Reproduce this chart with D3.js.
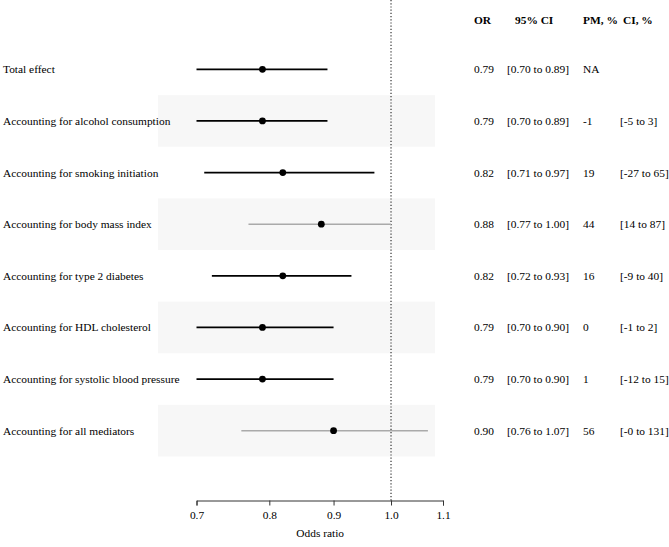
<!DOCTYPE html>
<html><head><meta charset="utf-8">
<script src="https://cdn.jsdelivr.net/npm/d3@7"></script>
<style>body{margin:0;background:#fff}svg{display:block;font-family:"Liberation Serif","Times New Roman",serif}</style>
</head><body>
<script>
const labels = ["Total effect","Accounting for alcohol consumption","Accounting for smoking initiation","Accounting for body mass index","Accounting for type 2 diabetes","Accounting for HDL cholesterol","Accounting for systolic blood pressure","Accounting for all mediators"];
const orVals = [0.79,0.79,0.82,0.88,0.82,0.79,0.79,0.90];
const lower = [0.70,0.70,0.71,0.77,0.72,0.70,0.70,0.76];
const upper = [0.89,0.89,0.97,1.00,0.93,0.90,0.90,1.07];
const pm = ["NA","-1","19","44","16","0","1","56"];
const pmCI = ["","[-5 to 3]","[-27 to 65]","[14 to 87]","[-9 to 40]","[-1 to 2]","[-12 to 15]","[-0 to 131]"];
const ticks = [0.7,0.8,0.9,1.0,1.1];

const W=669,H=547,FS=11.4;
const svg=d3.select("body").append("svg").attr("width",W).attr("height",H);
const x=d3.scaleLog().domain([0.7,1.1]).range([196.5,443]);
const y=d3.scaleBand().domain(d3.range(labels.length)).range([43.5,456.5]);
const yc=i=>y(i)+y.bandwidth()/2;

// shaded bands
svg.append("g").selectAll("rect").data(d3.range(labels.length).filter(i=>i%2===1)).join("rect")
 .attr("x",158).attr("width",277).attr("y",i=>y(i)).attr("height",y.bandwidth()).attr("fill","#f7f7f7");

// reference line
svg.append("line").attr("x1",x(1)).attr("x2",x(1)).attr("y1",0).attr("y2",500.5)
 .attr("stroke","#333").attr("stroke-width",1.2).attr("stroke-dasharray","1.2,2");

// CIs
const col=i=>upper[i]>=1?"#aaaaaa":"#000";
svg.append("g").selectAll("line").data(d3.range(labels.length)).join("line")
 .attr("x1",i=>x(lower[i])).attr("x2",i=>x(upper[i])).attr("y1",yc).attr("y2",yc)
 .attr("stroke",col).attr("stroke-width",i=>upper[i]>=1?1.5:1.8);
svg.append("g").selectAll("circle").data(d3.range(labels.length)).join("circle")
 .attr("cx",i=>x(orVals[i])).attr("cy",yc).attr("r",3.4).attr("fill","#000");

// labels
const txt=(xp,arr)=>svg.append("g").selectAll("text").data(arr).join("text")
 .attr("x",xp).attr("y",(d,i)=>yc(i)).attr("dy","0.35em").attr("font-size",FS).attr("fill","#000").text(d=>d);
txt(3,labels);
txt(474,orVals.map(v=>v.toFixed(2)));
txt(507,d3.range(labels.length).map(i=>`[${lower[i].toFixed(2)} to ${upper[i].toFixed(2)}]`));
txt(583,pm);
txt(620,pmCI);

// header
const hdr=[["OR",474],["95% CI",515],["PM, %",583],["CI, %",623]];
svg.append("g").selectAll("text").data(hdr).join("text").attr("x",d=>d[1]).attr("y",20).attr("dy","0.35em")
 .attr("font-size",FS).attr("font-weight","bold").attr("fill","#000").text(d=>d[0]);

// axis
const ax=svg.append("g").attr("transform","translate(0,500.5)")
 .call(d3.axisBottom(x).tickValues(ticks).tickFormat(d3.format(".1f")).tickSize(5).tickSizeOuter(5).tickPadding(5));
ax.attr("font-family",null);
ax.select(".domain").attr("stroke","#333");
ax.selectAll(".tick line").attr("stroke","#333");
ax.selectAll("text").attr("font-family","Liberation Serif").attr("font-size",FS).attr("fill","#000");
svg.append("text").attr("x",x(0.875)+2).attr("y",533).attr("dy","0.35em").attr("text-anchor","middle").attr("font-size",FS).attr("fill","#000").text("Odds ratio");
</script>
</body></html>
